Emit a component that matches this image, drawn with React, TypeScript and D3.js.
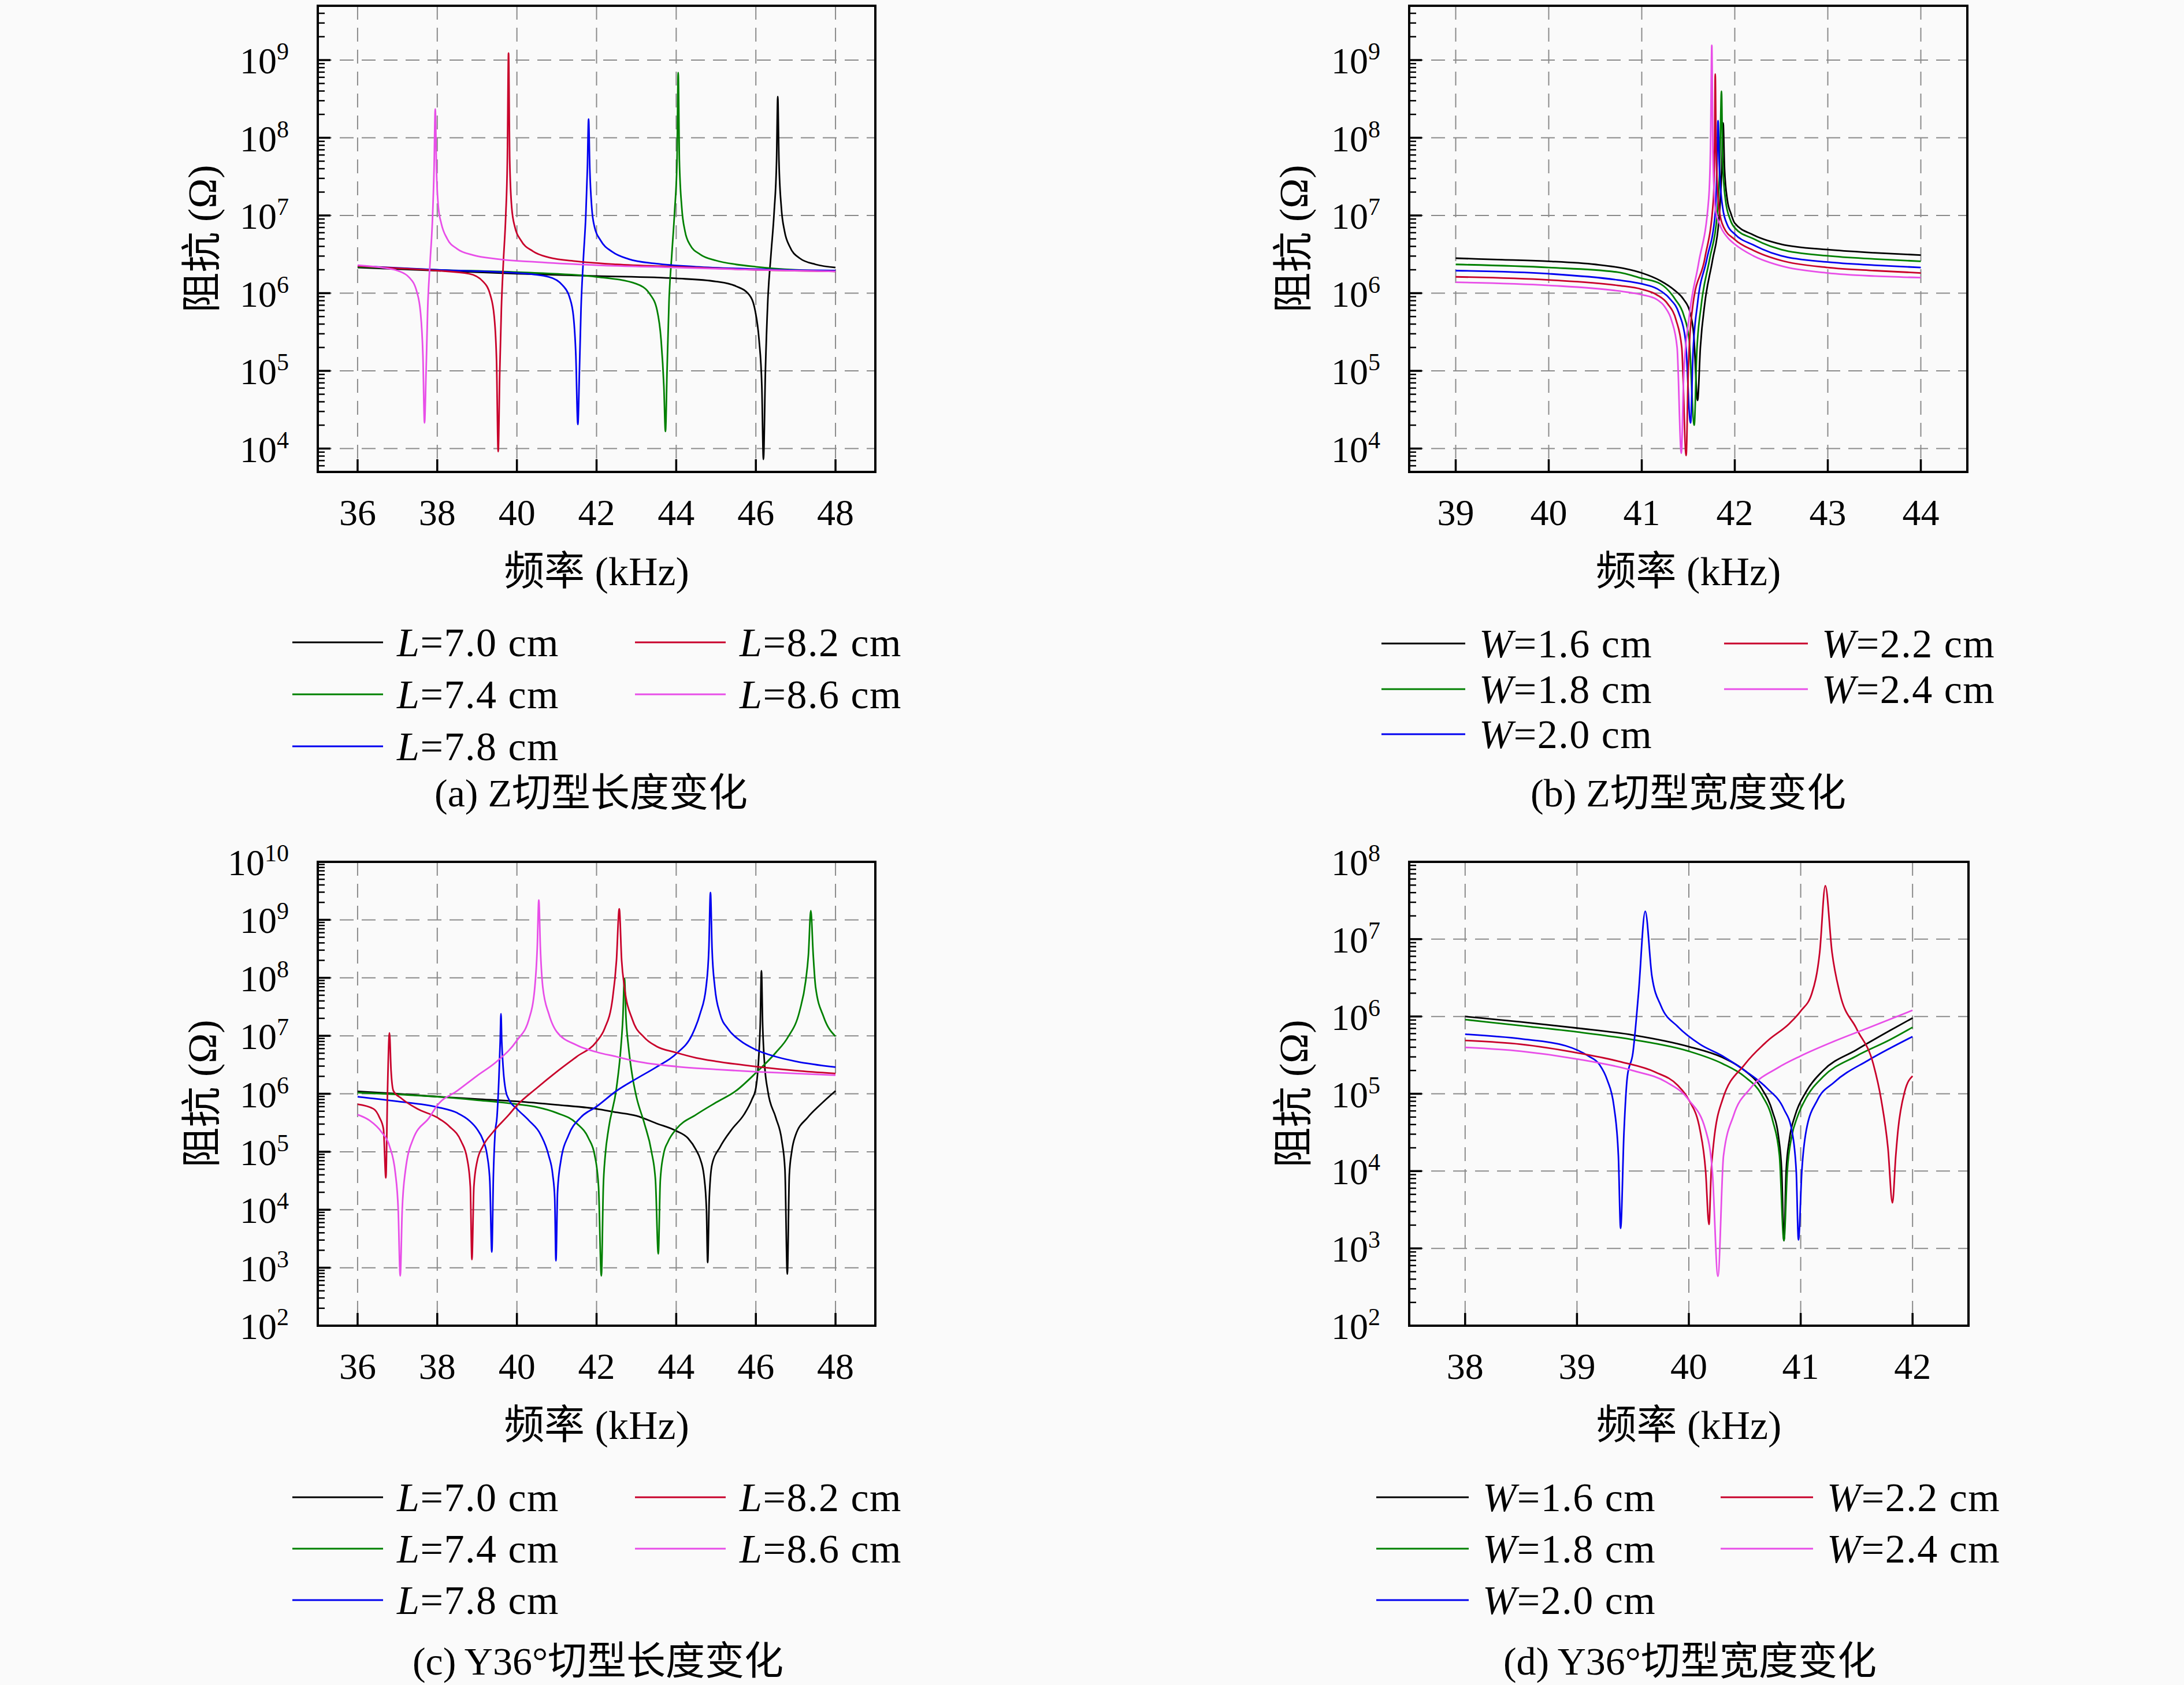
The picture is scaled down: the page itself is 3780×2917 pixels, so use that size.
import React from 'react';
import * as d3 from 'd3';

type Pt = [number, number];

// ---------- Data: [frequency (kHz), log10 of impedance (Ω)] ----------
// (a) Z-cut, length variation
const aL70: Pt[] = [[36,6.33],[38,6.29],[40,6.25],[42,6.22],[44,6.19],[45,6.15],[45.5,6.09],[45.83,5.98],[45.98,5.78],[46.08,5.4],[46.15,4.8],[46.19,3.86],[46.24,5.0],[46.3,5.9],[46.38,6.5],[46.46,7.05],[46.52,7.7],[46.55,8.53],[46.58,7.7],[46.64,7.1],[46.72,6.8],[46.85,6.6],[47.1,6.45],[47.5,6.37],[48,6.33]];
const aL74: Pt[] = [[36,6.34],[38,6.30],[40,6.27],[42,6.21],[43,6.12],[43.35,5.98],[43.52,5.78],[43.62,5.4],[43.69,4.8],[43.73,4.22],[43.77,5.0],[43.82,5.9],[43.89,6.5],[43.96,7.05],[44.02,7.7],[44.05,8.84],[44.08,7.7],[44.14,7.1],[44.22,6.8],[44.35,6.62],[44.6,6.5],[45,6.42],[45.5,6.37],[46,6.34],[47,6.30],[48,6.28]];
const aL78: Pt[] = [[36,6.35],[38,6.30],[40,6.26],[40.8,6.21],[41.15,6.1],[41.32,5.95],[41.42,5.7],[41.48,5.2],[41.53,4.31],[41.57,5.0],[41.61,5.8],[41.67,6.45],[41.73,7.0],[41.77,7.6],[41.8,8.24],[41.83,7.6],[41.88,7.1],[41.95,6.85],[42.1,6.68],[42.4,6.53],[42.8,6.44],[43.5,6.38],[44.5,6.34],[46,6.31],[48,6.29]];
const aL82: Pt[] = [[36,6.35],[37,6.32],[38,6.29],[38.8,6.25],[39.15,6.15],[39.33,5.98],[39.43,5.7],[39.49,5.1],[39.53,3.96],[39.57,5.0],[39.61,5.8],[39.66,6.4],[39.72,7.0],[39.76,7.7],[39.79,9.09],[39.82,7.7],[39.87,7.1],[39.95,6.85],[40.1,6.68],[40.4,6.54],[40.8,6.46],[41.5,6.41],[42.5,6.37],[44,6.34],[46,6.30],[48,6.28]];
const aL86: Pt[] = [[36,6.36],[36.6,6.33],[37.0,6.29],[37.3,6.2],[37.48,6.03],[37.58,5.75],[37.64,5.2],[37.68,4.33],[37.72,5.0],[37.76,5.8],[37.82,6.4],[37.88,6.95],[37.92,7.6],[37.95,8.37],[37.98,7.6],[38.03,7.1],[38.1,6.9],[38.25,6.7],[38.5,6.57],[38.9,6.49],[39.5,6.44],[40.5,6.40],[42,6.36],[44,6.33],[46,6.30],[48,6.28]];

// (b) Z-cut, width variation
const bW16: Pt[] = [[39,6.45],[39.5,6.43],[40,6.41],[40.5,6.37],[40.8,6.32],[41.0,6.26],[41.2,6.16],[41.35,6.04],[41.45,5.92],[41.52,5.75],[41.56,5.45],[41.6,4.62],[41.63,5.3],[41.68,5.89],[41.76,6.42],[41.83,6.95],[41.86,7.6],[41.875,8.19],[41.89,7.6],[41.92,7.2],[41.96,7.02],[42.0,6.9],[42.2,6.75],[42.5,6.63],[43,6.56],[43.5,6.52],[44,6.49]];
const bW18: Pt[] = [[39,6.37],[40,6.33],[40.74,6.27],[41.0,6.19],[41.2,6.12],[41.36,5.92],[41.45,5.72],[41.51,5.4],[41.564,4.30],[41.59,5.2],[41.64,5.85],[41.73,6.44],[41.81,7.0],[41.84,7.7],[41.857,8.60],[41.87,7.7],[41.9,7.2],[41.95,6.95],[42.0,6.84],[42.2,6.70],[42.5,6.56],[43,6.48],[43.5,6.44],[44,6.41]];
const bW20: Pt[] = [[39,6.29],[40,6.25],[40.74,6.17],[41.0,6.12],[41.16,6.06],[41.3,5.93],[41.4,5.74],[41.47,5.4],[41.525,4.33],[41.55,5.2],[41.6,5.87],[41.7,6.44],[41.79,7.03],[41.81,7.7],[41.82,8.22],[41.835,7.6],[41.87,7.1],[41.92,6.88],[42.0,6.76],[42.2,6.62],[42.5,6.48],[43,6.40],[43.5,6.36],[44,6.33]];
const bW22: Pt[] = [[39,6.21],[40,6.17],[40.74,6.10],[41.0,6.05],[41.16,5.98],[41.28,5.86],[41.37,5.65],[41.43,5.3],[41.477,3.91],[41.5,5.0],[41.55,5.85],[41.68,6.46],[41.77,7.2],[41.783,7.9],[41.79,8.82],[41.8,7.8],[41.83,7.1],[41.88,6.85],[42.0,6.69],[42.2,6.55],[42.5,6.42],[43,6.33],[43.5,6.29],[44,6.26]];
const bW24: Pt[] = [[39,6.14],[40,6.10],[40.74,6.03],[41.0,5.98],[41.16,5.92],[41.25,5.82],[41.32,5.65],[41.38,5.3],[41.425,3.94],[41.45,4.9],[41.51,5.70],[41.61,6.38],[41.72,7.22],[41.74,7.95],[41.753,9.19],[41.765,7.8],[41.79,7.1],[41.84,6.88],[41.92,6.72],[42.0,6.63],[42.2,6.48],[42.5,6.35],[43,6.26],[43.5,6.22],[44,6.20]];

// (c) Y36°-cut, length variation
const cL70: Pt[] = [[36,6.04],[37,6.0],[38,5.95],[39,5.91],[40,5.87],[41,5.81],[42,5.74],[42.5,5.68],[43,5.62],[43.5,5.49],[44,5.36],[44.3,5.23],[44.5,5.03],[44.6,4.88],[44.7,4.57],[44.76,4.0],[44.79,3.09],[44.83,4.2],[44.9,4.78],[45.1,5.08],[45.4,5.39],[45.7,5.64],[45.9,5.9],[46.0,6.1],[46.07,6.6],[46.11,7.2],[46.14,8.12],[46.17,7.2],[46.22,6.5],[46.3,6.05],[46.5,5.59],[46.65,5.2],[46.73,4.7],[46.79,2.89],[46.84,4.6],[46.9,5.0],[47.0,5.29],[47.3,5.59],[47.6,5.80],[48,6.05]];
const cL74: Pt[] = [[36,6.02],[37,5.99],[38,5.95],[39,5.89],[40,5.82],[40.5,5.77],[41,5.67],[41.5,5.49],[41.8,5.23],[41.95,4.95],[42.05,4.4],[42.12,2.86],[42.17,4.4],[42.22,4.95],[42.3,5.39],[42.5,6.10],[42.6,6.71],[42.66,7.3],[42.70,7.99],[42.74,7.3],[42.8,6.82],[42.9,6.3],[43,5.95],[43.2,5.49],[43.38,5.0],[43.48,4.5],[43.55,3.24],[43.6,4.5],[43.68,4.95],[43.8,5.18],[44,5.39],[44.5,5.64],[45,5.85],[45.5,6.05],[46,6.36],[46.5,6.71],[46.8,6.97],[47.1,7.43],[47.25,7.94],[47.32,8.4],[47.38,9.16],[47.44,8.4],[47.5,7.84],[47.7,7.33],[48,6.99]];
const cL78: Pt[] = [[36,5.95],[37,5.87],[38,5.77],[38.5,5.67],[38.8,5.54],[39.0,5.39],[39.15,5.2],[39.25,4.95],[39.32,4.5],[39.37,3.27],[39.41,4.6],[39.45,5.3],[39.5,5.6],[39.55,6.3],[39.58,6.9],[39.60,7.38],[39.62,6.9],[39.66,6.4],[39.72,6.05],[39.8,5.90],[40,5.74],[40.3,5.54],[40.6,5.29],[40.8,4.93],[40.9,4.6],[40.95,4.2],[40.98,3.12],[41.02,4.3],[41.1,4.83],[41.3,5.29],[41.6,5.59],[42,5.78],[42.5,6.05],[43,6.26],[43.5,6.46],[44,6.69],[44.4,7.02],[44.6,7.38],[44.75,7.84],[44.82,8.5],[44.86,9.47],[44.9,8.5],[44.97,7.84],[45.1,7.38],[45.3,7.12],[45.6,6.92],[46,6.76],[46.5,6.64],[47,6.56],[48,6.46]];
const cL82: Pt[] = [[36,5.82],[36.4,5.74],[36.55,5.59],[36.65,5.39],[36.71,4.55],[36.75,6.0],[36.8,7.05],[36.84,6.4],[36.9,6.05],[37.1,5.92],[37.5,5.74],[38,5.59],[38.3,5.44],[38.6,5.18],[38.75,4.88],[38.83,4.4],[38.87,3.14],[38.92,4.4],[39.0,4.83],[39.15,5.1],[39.4,5.34],[39.8,5.64],[40,5.80],[40.5,6.10],[41,6.38],[41.5,6.64],[42,6.9],[42.2,7.12],[42.4,7.63],[42.5,8.30],[42.57,9.19],[42.63,8.3],[42.7,7.84],[42.9,7.28],[43.2,6.97],[43.5,6.82],[44,6.71],[44.5,6.62],[45,6.56],[46,6.47],[47,6.40],[48,6.35]];
const cL86: Pt[] = [[36,5.64],[36.3,5.54],[36.6,5.34],[36.8,5.1],[36.95,4.62],[37.02,4.0],[37.07,2.86],[37.12,4.0],[37.2,4.67],[37.4,5.23],[37.8,5.59],[38,5.80],[38.5,6.05],[39,6.31],[39.5,6.56],[40,6.92],[40.3,7.28],[40.45,7.84],[40.51,8.5],[40.55,9.34],[40.59,8.5],[40.65,7.84],[40.8,7.38],[41,7.07],[41.5,6.84],[42,6.72],[42.5,6.64],[43,6.56],[44,6.47],[45,6.42],[46,6.38],[47,6.35],[48,6.32]];

// (d) Y36°-cut, width variation
const dW16: Pt[] = [[38,6.0],[38.5,5.93],[39,5.85],[39.5,5.76],[40,5.61],[40.3,5.47],[40.5,5.30],[40.65,5.07],[40.75,4.76],[40.8,4.46],[40.83,4.0],[40.85,3.10],[40.87,4.0],[40.9,4.42],[40.95,4.72],[41.05,5.03],[41.2,5.30],[41.5,5.57],[41.8,5.82],[42,5.98]];
const dW18: Pt[] = [[38,5.96],[38.5,5.88],[39,5.80],[39.5,5.70],[40,5.55],[40.3,5.39],[40.5,5.22],[40.65,4.99],[40.75,4.65],[40.81,4.2],[40.85,3.10],[40.88,4.0],[40.92,4.45],[40.97,4.7],[41.05,4.95],[41.2,5.22],[41.5,5.49],[41.8,5.70],[42,5.86]];
const dW20: Pt[] = [[38,5.77],[38.5,5.71],[38.9,5.62],[39.1,5.49],[39.2,5.38],[39.27,5.18],[39.33,4.84],[39.37,4.2],[39.39,3.26],[39.42,4.5],[39.45,5.22],[39.5,5.53],[39.55,6.30],[39.61,7.36],[39.67,6.52],[39.75,6.14],[39.9,5.87],[40.1,5.64],[40.3,5.49],[40.5,5.30],[40.7,5.07],[40.85,4.80],[40.92,4.53],[40.96,4.0],[40.98,3.11],[41.01,4.0],[41.05,4.53],[41.15,4.92],[41.3,5.15],[41.6,5.43],[41.8,5.59],[42,5.74]];
const dW22: Pt[] = [[38,5.69],[38.5,5.64],[39,5.53],[39.4,5.41],[39.7,5.28],[39.9,5.11],[40.0,4.92],[40.1,4.53],[40.15,4.0],[40.18,3.31],[40.2,4.0],[40.22,4.34],[40.3,4.92],[40.5,5.38],[40.7,5.68],[40.9,5.91],[41.0,6.07],[41.1,6.30],[41.17,6.83],[41.22,7.69],[41.28,6.83],[41.35,6.30],[41.5,5.84],[41.65,5.38],[41.72,4.92],[41.78,4.3],[41.82,3.59],[41.85,4.2],[41.87,4.53],[41.93,5.03],[42,5.23]];
const dW24: Pt[] = [[38,5.60],[38.5,5.55],[39,5.45],[39.5,5.30],[39.8,5.15],[40.0,4.92],[40.15,4.53],[40.21,4.0],[40.26,2.64],[40.31,4.2],[40.4,4.72],[40.55,5.07],[40.8,5.34],[41.0,5.49],[41.3,5.68],[41.6,5.85],[42,6.08]];

const lengthLabels = ['7.0', '7.4', '7.8', '8.2', '8.6'];
const widthLabels = ['1.6', '1.8', '2.0', '2.2', '2.4'];
const seriesColors = ['#000000', '#008000', '#0000f0', '#c8002a', '#e84ee8'];

const xTicksLen = [36, 38, 40, 42, 44, 46, 48];
const xTicksZW = [39, 40, 41, 42, 43, 44];
const xTicksYW = [38, 39, 40, 41, 42];
const yExpZ = [4, 5, 6, 7, 8, 9];
const yExpYL = [2, 3, 4, 5, 6, 7, 8, 9, 10];
const yExpYW = [2, 3, 4, 5, 6, 7, 8];

const FONT = '"Liberation Serif", "Noto Sans CJK SC", serif';
const FS = 64;
const FS_LABEL = 70;
const FS_LEGEND = 70;

interface PanelProps {
  id: string;
  box: { x0: number; x1: number; y0: number; y1: number };
  xDomain: [number, number];
  yDomain: [number, number];
  xTicks: number[];
  yExps: number[];
  series: Pt[][];
  sym: string;
  labels: string[];
  caption: string;
  captionX: number;
  captionY: number;
  legend: { rows: number[]; c1: number; c2: number; lineLen: number };
}

function Panel(p: PanelProps) {
  const { box } = p;
  const x = d3.scaleLinear().domain(p.xDomain).range([box.x0, box.x1]);
  const y = d3.scaleLog().domain(p.yDomain).range([box.y1, box.y0]);
  const line = d3
    .line<Pt>()
    .x((d) => x(d[0]))
    .y((d) => y(Math.pow(10, d[1])))
    .curve(d3.curveMonotoneX);

  const lo = Math.floor(Math.log10(p.yDomain[0]));
  const hi = Math.ceil(Math.log10(p.yDomain[1]));
  const minors: number[] = [];
  for (let n = lo; n <= hi; n++) {
    for (let k = 2; k <= 9; k++) {
      const v = k * Math.pow(10, n);
      if (v >= p.yDomain[0] * 0.999 && v <= p.yDomain[1] * 1.001) minors.push(v);
    }
  }
  const cx = (box.x0 + box.x1) / 2;
  const cy = (box.y0 + box.y1) / 2;
  const legendEntries = p.labels.map((lab, i) => {
    const col = i < 3 ? 0 : 1;
    const row = i < 3 ? i : i - 3;
    const lx = col === 0 ? p.legend.c1 : p.legend.c2;
    const ly = p.legend.rows[row];
    return (
      <g key={i}>
        <line x1={lx} x2={lx + p.legend.lineLen} y1={ly} y2={ly} stroke={seriesColors[i]} strokeWidth={2.8} />
        <text
          x={lx + p.legend.lineLen + 24}
          y={ly + 24}
          fontSize={FS_LEGEND}
          fontFamily={FONT}
          letterSpacing={1.5}
        >
          <tspan fontStyle="italic">{p.sym}</tspan>={lab} cm
        </text>
      </g>
    );
  });

  return (
    <g>
      <defs>
        <clipPath id={`clip-${p.id}`}>
          <rect x={box.x0} y={box.y0} width={box.x1 - box.x0} height={box.y1 - box.y0} />
        </clipPath>
      </defs>
      {/* grid */}
      <g stroke="#8a8a8a" strokeWidth={2} strokeDasharray="24,14" fill="none">
        {p.xTicks.map((t) => (
          <line key={`gx${t}`} x1={x(t)} x2={x(t)} y1={box.y0} y2={box.y1} />
        ))}
        {p.yExps.map((e) => (
          <line key={`gy${e}`} x1={box.x0} x2={box.x1} y1={y(Math.pow(10, e))} y2={y(Math.pow(10, e))} />
        ))}
      </g>
      {/* curves */}
      <g clipPath={`url(#clip-${p.id})`} fill="none" strokeWidth={2.8} strokeLinejoin="round">
        {p.series.map((s, i) => (
          <path key={i} d={line(s) || ''} stroke={seriesColors[i]} />
        ))}
      </g>
      {/* ticks */}
      <g stroke="#000" strokeWidth={3.5}>
        {p.xTicks.map((t) => (
          <line key={`tx${t}`} x1={x(t)} x2={x(t)} y1={box.y1} y2={box.y1 - 22} />
        ))}
        {p.yExps.map((e) => (
          <line key={`ty${e}`} x1={box.x0} x2={box.x0 + 22} y1={y(Math.pow(10, e))} y2={y(Math.pow(10, e))} />
        ))}
      </g>
      <g stroke="#000" strokeWidth={2.5}>
        {minors.map((v, i) => (
          <line key={`m${i}`} x1={box.x0} x2={box.x0 + 12} y1={y(v)} y2={y(v)} />
        ))}
      </g>
      <rect x={box.x0} y={box.y0} width={box.x1 - box.x0} height={box.y1 - box.y0} fill="none" stroke="#000" strokeWidth={4} />
      {/* tick labels */}
      <g fontFamily={FONT} fontSize={FS} fill="#000">
        {p.xTicks.map((t) => (
          <text key={`lx${t}`} x={x(t)} y={box.y1 + 92} textAnchor="middle">
            {t}
          </text>
        ))}
        {p.yExps.map((e) => (
          <text key={`ly${e}`} x={box.x0 - 50} y={y(Math.pow(10, e)) + 23} textAnchor="end">
            10
            <tspan dy={-24} fontSize={42}>
              {e}
            </tspan>
          </text>
        ))}
      </g>
      {/* axis labels */}
      <text x={cx} y={box.y1 + 196} textAnchor="middle" fontFamily={FONT} fontSize={FS_LABEL}>
        频率 (kHz)
      </text>
      <text
        transform={`translate(${box.x0 - 200},${cy}) rotate(-90)`}
        textAnchor="middle"
        dominantBaseline="central"
        fontFamily={FONT}
        fontSize={FS_LABEL}
      >
        阻抗 (Ω)
      </text>
      {legendEntries}
      <text x={p.captionX} y={p.captionY} textAnchor="middle" fontFamily={FONT} fontSize={FS + 4}>
        {p.caption}
      </text>
    </g>
  );
}

export default function App() {
  const W = 3780;
  const H = 2917;
  return (
    <svg
      width={W}
      height={H}
      viewBox={`0 0 ${W} ${H}`}
      style={{ position: 'absolute', left: 0, top: 0, display: 'block' }}
    >
      <rect x={0} y={0} width={W} height={H} fill="#fafafa" />
      <Panel
        id="a"
        box={{ x0: 550, x1: 1515, y0: 10, y1: 817 }}
        xDomain={[35, 49]}
        yDomain={[5e3, 5e9]}
        xTicks={xTicksLen}
        yExps={yExpZ}
        series={[aL70, aL74, aL78, aL82, aL86]}
        sym="L"
        labels={lengthLabels}
        caption="(a) Z切型长度变化"
        captionX={1023}
        captionY={1396}
        legend={{ rows: [1112, 1202, 1292], c1: 506, c2: 1099, lineLen: 157 }}
      />
      <Panel
        id="b"
        box={{ x0: 2439, x1: 3405, y0: 10, y1: 817 }}
        xDomain={[38.5, 44.5]}
        yDomain={[5e3, 5e9]}
        xTicks={xTicksZW}
        yExps={yExpZ}
        series={[bW16, bW18, bW20, bW22, bW24]}
        sym="W"
        labels={widthLabels}
        caption="(b) Z切型宽度变化"
        captionX={2922}
        captionY={1396}
        legend={{ rows: [1114, 1193, 1271], c1: 2391, c2: 2984, lineLen: 145 }}
      />
      <Panel
        id="c"
        box={{ x0: 550, x1: 1515, y0: 1492, y1: 2295 }}
        xDomain={[35, 49]}
        yDomain={[1e2, 1e10]}
        xTicks={xTicksLen}
        yExps={yExpYL}
        series={[cL70, cL74, cL78, cL82, cL86]}
        sym="L"
        labels={lengthLabels}
        caption="(c) Y36°切型长度变化"
        captionX={1035}
        captionY={2899}
        legend={{ rows: [2592, 2681, 2770], c1: 506, c2: 1099, lineLen: 157 }}
      />
      <Panel
        id="d"
        box={{ x0: 2439, x1: 3407, y0: 1492, y1: 2295 }}
        xDomain={[37.5, 42.5]}
        yDomain={[1e2, 1e8]}
        xTicks={xTicksYW}
        yExps={yExpYW}
        series={[dW16, dW18, dW20, dW22, dW24]}
        sym="W"
        labels={widthLabels}
        caption="(d) Y36°切型宽度变化"
        captionX={2925}
        captionY={2899}
        legend={{ rows: [2592, 2681, 2770], c1: 2382, c2: 2978, lineLen: 160 }}
      />
    </svg>
  );
}
